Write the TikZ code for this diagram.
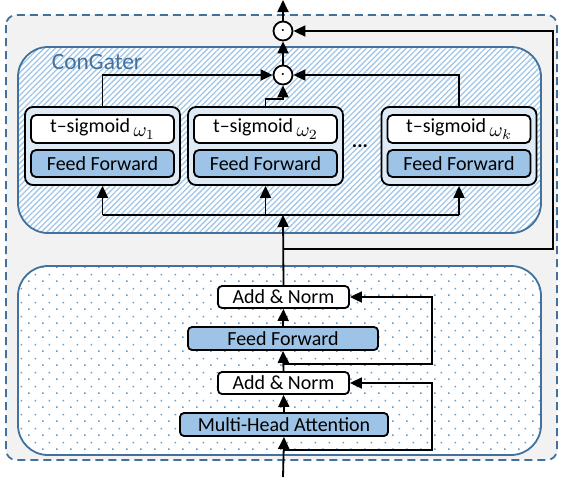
\documentclass[tikz,border=0pt]{standalone}
\usepackage{fontspec}
\setmainfont{Carlito}
\usepackage{amsmath}
\usetikzlibrary{arrows.meta,patterns,patterns.meta}

\definecolor{bordblue}{HTML}{41719C}
\definecolor{ffblue}{HTML}{9DC3E6}
\definecolor{modblue}{HTML}{DEEBF7}
\definecolor{bggray}{HTML}{F2F2F2}
\definecolor{hatchblue}{HTML}{A2C6E8}
\definecolor{dotblue}{HTML}{5B9BD5}

% staggered dots for the encoder block
\pgfdeclarepatternformonly{sparsedots}{\pgfpointorigin}{\pgfqpoint{7pt}{7pt}}{\pgfqpoint{7pt}{7pt}}{%
  \pgfpathrectangle{\pgfqpoint{0pt}{0pt}}{\pgfqpoint{0.85pt}{0.85pt}}%
  \pgfpathrectangle{\pgfqpoint{3.5pt}{3.5pt}}{\pgfqpoint{0.85pt}{0.85pt}}%
  \pgfusepath{fill}}

\begin{document}
\begin{tikzpicture}[x=0.5pt,y=-0.5pt,line width=0.9pt,
  >={Triangle[length=6pt,width=5.5pt]},
  txt/.style={font=\fontsize{10}{12}\selectfont,inner sep=0pt},
  module/.style={draw,fill=modblue,rounded corners=4pt,minimum width=77.5pt,minimum height=39pt,inner sep=0pt},
  sigbox/.style={txt,draw,fill=white,rounded corners=2.5pt,minimum width=71.5pt,minimum height=14pt},
  ffbox/.style={txt,draw,fill=ffblue,rounded corners=2.5pt,minimum width=71.5pt,minimum height=13.5pt},
  normbox/.style={txt,draw,fill=white,rounded corners=2pt,minimum width=65.5pt,minimum height=11pt},
  layer/.style={txt,draw,fill=ffblue,rounded corners=2pt,minimum height=11.5pt},
  gate/.style={draw,fill=white,circle,minimum size=9.5pt,inner sep=0pt}]
\useasboundingbox (0,0) rectangle (562,477);

% outer frame and the two blocks
\draw[bordblue,fill=bggray,dash pattern=on 4pt off 2.5pt,rounded corners=5pt] (6,15) rectangle (557,460);
\draw[bordblue,rounded corners=15pt,preaction={fill=white},
  pattern={Lines[angle=45,distance=2pt,line width=0.65pt]},pattern color=hatchblue] (18,47) rectangle (541,233);
\draw[bordblue,rounded corners=15pt,preaction={fill=white},
  pattern=sparsedots,pattern color=dotblue] (18,266) rectangle (541,455);
\node[anchor=west,inner sep=0pt,text=bordblue,font=\fontsize{11.7}{14}\selectfont] (cg) at (51,62) {ConGater};

% gated experts
\node[module] (m1) at (102.5,146) {};
\node[sigbox] (s1) at (102.5,129) {t--sigmoid\raisebox{-0.45ex}{$\,\omega_1$}};
\node[ffbox] (f1) at (102.5,163.5) {Feed Forward};
\node[module] (m2) at (265.5,146) {};
\node[sigbox] (s2) at (265.5,129) {t--sigmoid\raisebox{-0.45ex}{$\,\omega_2$}};
\node[ffbox] (f2) at (265.5,163.5) {Feed Forward};
\node[module] (m3) at (459,146) {};
\node[sigbox] (s3) at (459,129) {t--sigmoid\raisebox{-0.45ex}{$\,\omega_k$}};
\node[ffbox] (f3) at (459,163.5) {Feed Forward};
\node[txt,font=\fontsize{10}{12}\selectfont\bfseries] (dots) at (360,146) {...};

\node[gate] (c1) at (283,75) {$\cdot$};
\node[gate] (c2) at (283,31) {$\cdot$};

% transformer layer
\node[normbox] (an1) at (283.5,297) {Add \& Norm};
\node[layer,minimum width=95pt] (ff) at (283,338.5) {Feed Forward};
\node[normbox] (an2) at (283.5,383) {Add \& Norm};
\node[layer,minimum width=104pt] (mha) at (284,424.5) {Multi-Head Attention};

\coordinate (in) at (283,477);
\coordinate (out) at (283,0);
\coordinate (bus) at (283,215);
\coordinate (split) at (283,249);
\coordinate (r1) at (283,450);
\coordinate (r2) at (283,364);

\draw[->] (in) -- (mha.south);
\draw[->] (mha.north) -- (an2.south);
\draw[->] (an2.north) -- (ff.south);
\draw[->] (ff.north) -- (an1.south);
\draw[->] (r1) -- (432,450) |- (an2.east);
\draw[->] (r2) -- (432,364) |- (an1.east);
\draw[->] (an1.north) -- (bus);

\draw (m1.south |- bus) -- (m3.south |- bus);
\draw[->] (m1.south |- bus) -- (m1.south);
\draw[->] (m2.south |- bus) -- (m2.south);
\draw[->] (m3.south |- bus) -- (m3.south);

\draw[->] (m1.north) |- (c1.west);
\draw[->] (m3.north) |- (c1.east);
\draw[->] (m2.north) -- ++(0,-7) -| (c1.south);
\draw[->] (c1.north) -- (c2.south);
\draw[->] (c2.north) -- (out);
\draw[->] (split) -- (553,249) |- (c2.east);
\end{tikzpicture}
\end{document}
